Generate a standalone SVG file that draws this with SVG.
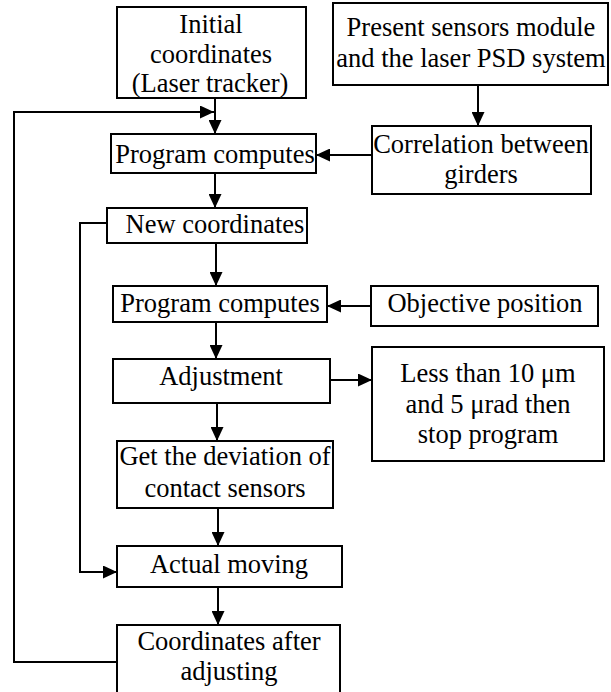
<svg xmlns="http://www.w3.org/2000/svg" width="611" height="692" viewBox="0 0 611 692">
<style>
.box{fill:#fff;stroke:#000;stroke-width:2}
.t{font-size:26.5px;fill:#000;text-anchor:middle}
.c{fill:none;stroke:#000;stroke-width:2}
</style>
<defs>
<marker id="ah" markerUnits="userSpaceOnUse" viewBox="0 0 14 13" refX="14" refY="6.5" markerWidth="14" markerHeight="13" orient="auto">
<path d="M0,0 L14,6.5 L0,13 z" fill="#000"/>
</marker>
</defs>
<rect width="611" height="692" fill="#fff"/>
<g id="connectors">
<line class="c" x1="215" y1="98" x2="215" y2="134" marker-end="url(#ah)"/>
<polyline class="c" points="117,662 14,662 14,112 214,112" marker-end="url(#ah)"/>
<line class="c" x1="478" y1="85" x2="478" y2="126" marker-end="url(#ah)"/>
<line class="c" x1="372" y1="155" x2="316" y2="155" marker-end="url(#ah)"/>
<line class="c" x1="215" y1="173" x2="215" y2="208" marker-end="url(#ah)"/>
<line class="c" x1="216" y1="243" x2="216" y2="286" marker-end="url(#ah)"/>
<polyline class="c" points="107,223 80,223 80,572 117,572" marker-end="url(#ah)"/>
<line class="c" x1="371" y1="306" x2="327" y2="306" marker-end="url(#ah)"/>
<line class="c" x1="216" y1="322" x2="216" y2="359" marker-end="url(#ah)"/>
<line class="c" x1="330" y1="380" x2="372" y2="380" marker-end="url(#ah)"/>
<line class="c" x1="217" y1="403" x2="217" y2="441" marker-end="url(#ah)"/>
<line class="c" x1="218" y1="508" x2="218" y2="546" marker-end="url(#ah)"/>
<line class="c" x1="218" y1="587" x2="218" y2="625" marker-end="url(#ah)"/>
</g>
<g font-family="Liberation Serif, Times New Roman, Tinos, DejaVu Serif, serif">
<g id="initial">
<rect class="box" x="117" y="7" width="189" height="91"/>
<text class="t" x="211" y="33">Initial</text>
<text class="t" x="211" y="63">coordinates</text>
<text class="t" x="210" y="92">(Laser tracker)</text>
</g>
<g id="present">
<rect class="box" x="333" y="3" width="275" height="82"/>
<text class="t" x="471" y="36">Present sensors module</text>
<text class="t" x="471" y="67">and the laser PSD system</text>
</g>
<g id="program1">
<rect class="box" x="111" y="134" width="205" height="39"/>
<text class="t" x="215" y="163">Program computes</text>
</g>
<g id="correlation">
<rect class="box" x="372" y="126" width="219" height="68"/>
<text class="t" x="481" y="153">Correlation between</text>
<text class="t" x="481" y="183">girders</text>
</g>
<g id="newcoords">
<rect class="box" x="107" y="208" width="200" height="35"/>
<text class="t" x="215" y="233">New coordinates</text>
</g>
<g id="program2">
<rect class="box" x="113" y="286" width="214" height="36"/>
<text class="t" x="220" y="312">Program computes</text>
</g>
<g id="objective">
<rect class="box" x="371" y="286" width="227" height="40"/>
<text class="t" x="485" y="312">Objective position</text>
</g>
<g id="adjustment">
<rect class="box" x="113" y="359" width="217" height="44"/>
<text class="t" x="221" y="385">Adjustment</text>
</g>
<g id="less">
<rect class="box" x="372" y="347" width="232" height="114"/>
<text class="t" x="488" y="382">Less than 10 μm</text>
<text class="t" x="488" y="413">and 5 μrad then</text>
<text class="t" x="488" y="443">stop program</text>
</g>
<g id="deviation">
<rect class="box" x="117" y="441" width="216" height="67"/>
<text class="t" x="225" y="465">Get the deviation of</text>
<text class="t" x="225" y="497">contact sensors</text>
</g>
<g id="actual">
<rect class="box" x="117" y="546" width="225" height="41"/>
<text class="t" x="229" y="573">Actual moving</text>
</g>
<g id="after">
<rect class="box" x="117" y="625" width="223" height="70"/>
<text class="t" x="229" y="650">Coordinates after</text>
<text class="t" x="229" y="680">adjusting</text>
</g>
</g>
</svg>
